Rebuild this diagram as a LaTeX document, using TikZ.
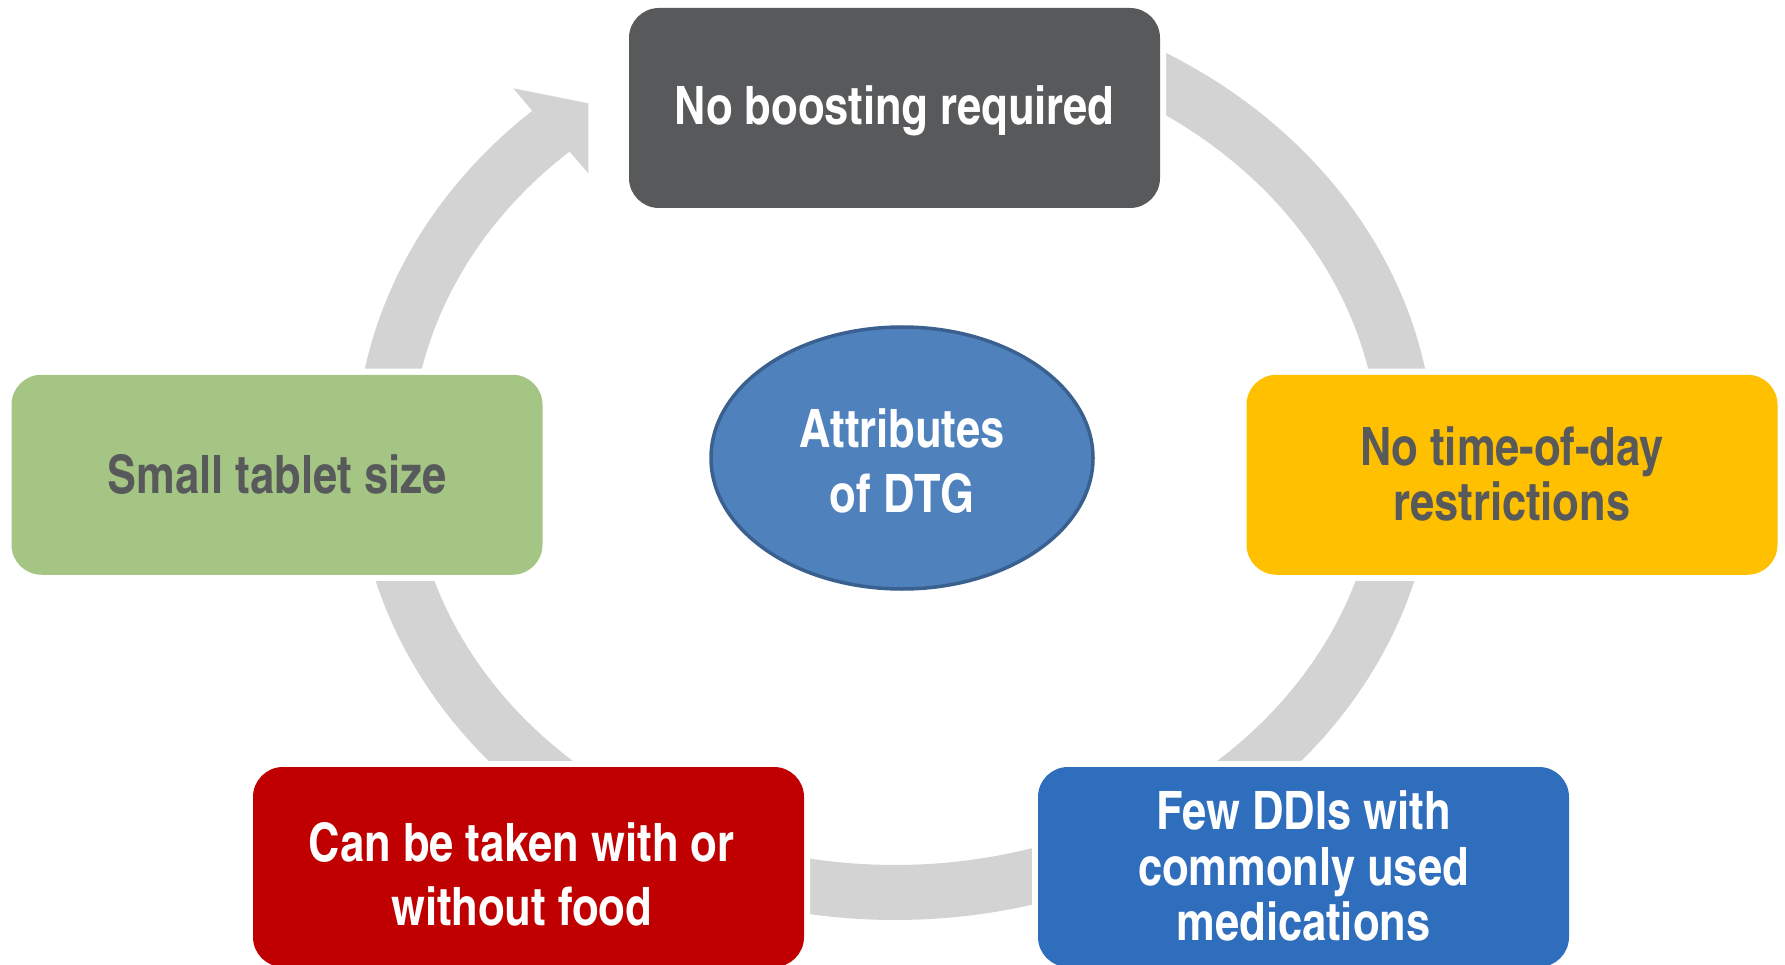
\documentclass[tikz,border=0pt]{standalone}
\usepackage{fontspec}
\newfontfamily\cnfont{texgyreheroscn-bold}[Extension=.otf]
\usetikzlibrary{shapes.geometric}

\definecolor{ringgray}{HTML}{D3D3D3}
\definecolor{slate}{HTML}{58595B}
\definecolor{leaf}{HTML}{A5C584}
\definecolor{amber}{HTML}{FFC000}
\definecolor{crimson}{HTML}{C00000}
\definecolor{royal}{HTML}{2E6EBC}
\definecolor{hubfill}{HTML}{4F81BD}
\definecolor{hubline}{HTML}{3A6090}

\begin{document}
\begin{tikzpicture}[x=1pt,y=-1pt,
  attrbox/.style={rounded corners=30pt, minimum width=531pt, minimum height=200pt,
    inner sep=0pt, preaction={draw=white, line width=12pt}},
  caption/.style={inner sep=0pt, align=center, font=\cnfont\fontsize{53}{#1}\selectfont},
  caption/.default=57]

\useasboundingbox (0,0) rectangle (1785,965);

% continuous cycle band with its arrowhead at the upper left
\fill[ringgray]
  plot[domain=64:-227.75,samples=300] ({895+539.5*cos(\x)},{455-465*sin(\x)})
  -- (513.3,88.3) -- (588.3,103.3) -- (588.3,173.3)
  -- plot[domain=-227.75:64,samples=300] ({895+484*cos(\x)},{455-410*sin(\x)})
  -- cycle;

% attribute boxes
\node[attrbox, fill=slate] (boost) at (894.5,108) {};
\node[attrbox, fill=amber] (clock) at (1512,474.75) {};
\node[attrbox, fill=royal] (ddi) at (1303.5,867) {};
\node[attrbox, fill=crimson, minimum width=551pt] (food) at (528.5,867) {};
\node[attrbox, fill=leaf] (tablet) at (277,474.75) {};

% central hub
\node[ellipse, fill=hubfill, draw=hubline, line width=3.5pt, minimum width=382pt,
  minimum height=262pt, inner sep=0pt] (hub) at (902,458) {};

% captions
\node[caption, text=white] (boosttxt) at ([yshift=-2.5pt]boost.center) {No boosting required};
\node[caption=55, text=slate] (clocktxt) at ([yshift=1pt]clock.center) {No time-of-day\\restrictions};
\node[caption=55.3, text=white] (dditxt) at ([yshift=1pt]ddi.center) {Few DDIs with\\commonly used\\medications};
\node[caption=64, text=white] (foodtxt) at ([xshift=-7pt,yshift=-7.5pt]food.center) {Can be taken with or\\without food};
\node[caption, text=slate] (tablettxt) at (tablet.center) {Small tablet size};
\node[caption=64.5, text=white] (hubtxt) at ([yshift=-3pt]hub.center) {Attributes\\of DTG};

\end{tikzpicture}
\end{document}
